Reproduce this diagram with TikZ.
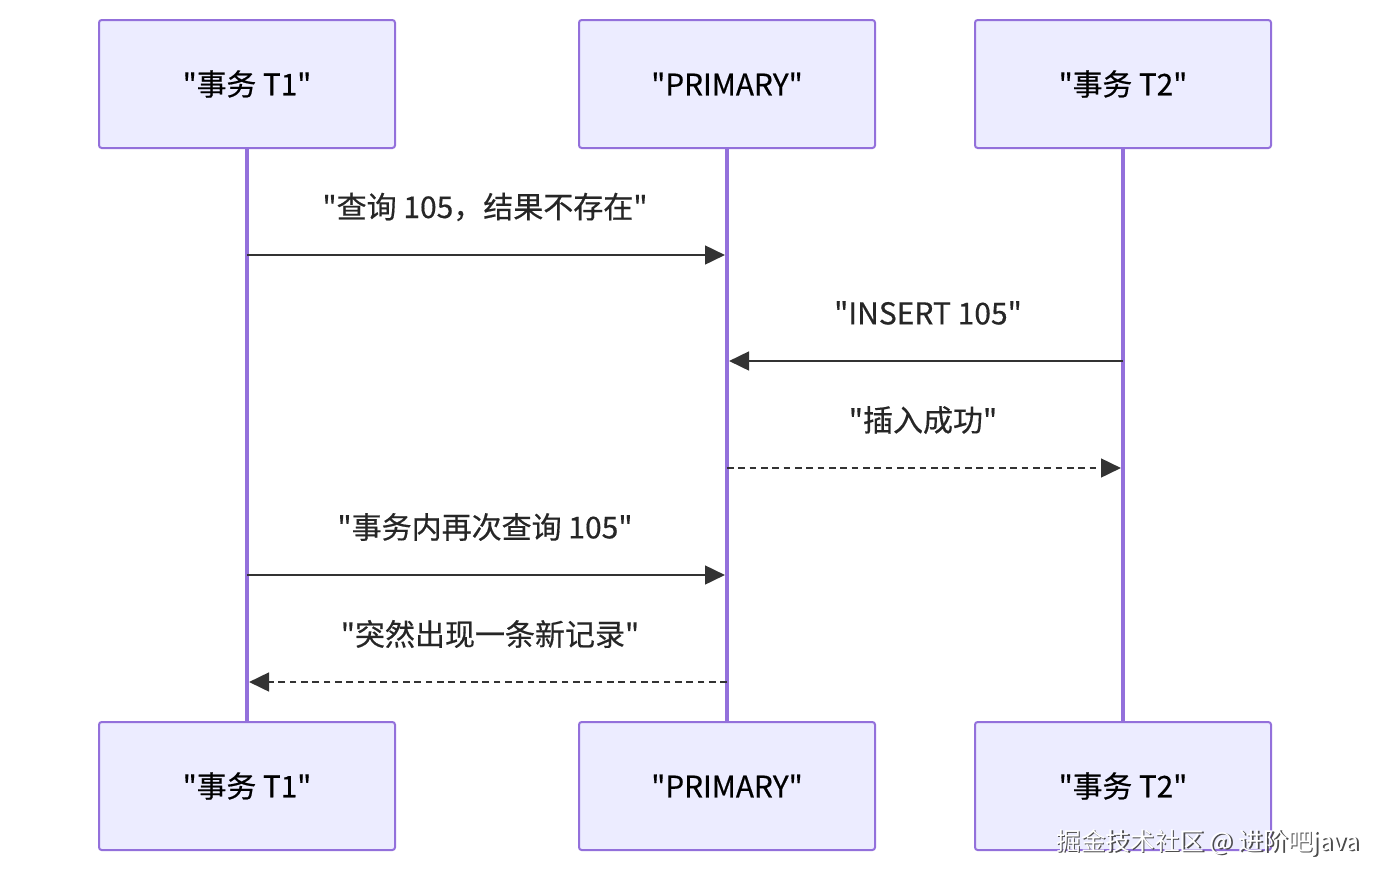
\documentclass[tikz,border=0pt]{standalone}
\usepackage{fontspec}
\setmainfont{Noto Sans CJK SC}[Ligatures=TeXOff]
\newfontfamily\lblfont{Noto Sans CJK SC}[Ligatures=TeXOff,FakeBold=0.5]
\usetikzlibrary{arrows.meta}
\definecolor{boxfill}{HTML}{ECECFF}
\definecolor{boxline}{HTML}{9370DB}
\definecolor{msg}{HTML}{333333}
\tikzset{
  actor/.style={draw=boxline, fill=boxfill, line width=1.5pt, rounded corners=2pt,
    minimum width=296*0.75pt, minimum height=128*0.75pt, inner sep=0pt,
    font=\lblfont\fontsize{22.3}{26}\selectfont, text=black},
  life/.style={draw=boxline, line width=2.4pt},
  msgline/.style={draw=msg, line width=2pt, -{Triangle[length=15pt,width=14pt]}},
  reply/.style={msgline, dash pattern=on 5pt off 3.5pt},
  lbl/.style={font=\lblfont\fontsize{22.5}{26}\selectfont, text=black!85, inner sep=0pt}
}
\begin{document}
\begin{tikzpicture}[x=0.75pt,y=-0.75pt]
\useasboundingbox (0,0) rectangle (1386,882);
% lifelines (drawn first)
\coordinate (l1t) at (247,148); \coordinate (l1b) at (247,722);
\coordinate (l2t) at (727,148); \coordinate (l2b) at (727,722);
\coordinate (l3t) at (1123,148); \coordinate (l3b) at (1123,722);
\draw[life] (l1t) -- (l1b);
\draw[life] (l2t) -- (l2b);
\draw[life] (l3t) -- (l3b);
% actors
\node[actor] (t1) at (247,84) {"事务 T1"};
\node[actor] (pr) at (727,84) {"PRIMARY"};
\node[actor] (t2) at (1123,84) {"事务 T2"};
\node[actor] (t1b) at (247,786) {"事务 T1"};
\node[actor] (prb) at (727,786) {"PRIMARY"};
\node[actor] (t2b) at (1123,786) {"事务 T2"};
% message anchors
\coordinate (a1s) at (247,255); \coordinate (a1e) at (725,255);
\coordinate (a2s) at (1123,361); \coordinate (a2e) at (729,361);
\coordinate (a3s) at (727,468); \coordinate (a3e) at (1121,468);
\coordinate (a4s) at (247,575); \coordinate (a4e) at (725,575);
\coordinate (a5s) at (727,682); \coordinate (a5e) at (249,682);
\draw[msgline] (a1s) -- (a1e);
\draw[msgline] (a2s) -- (a2e);
\draw[reply] (a3s) -- (a3e);
\draw[msgline] (a4s) -- (a4e);
\draw[reply] (a5s) -- (a5e);
% labels
\node[lbl] (m1) at (485,207) {"查询 105，结果不存在"};
\node[lbl] (m2) at (928,313) {"INSERT 105"};
\node[lbl] (m3) at (923,420) {"插入成功"};
\node[lbl] (m4) at (485,527) {"事务内再次查询 105"};
\node[lbl] (m5) at (490,634) {"突然出现一条新记录"};
% watermark
\node[font=\fontsize{18.5}{22}\selectfont, text=black!70, anchor=east, inner sep=0pt] (wms) at (1361.5,844.5) {掘金技术社区 @ 进阶吧java};
\node[font=\fontsize{18.5}{22}\selectfont, text=white, anchor=east, inner sep=0pt] (wm) at (1360,843) {掘金技术社区 @ 进阶吧java};
\end{tikzpicture}
\end{document}
